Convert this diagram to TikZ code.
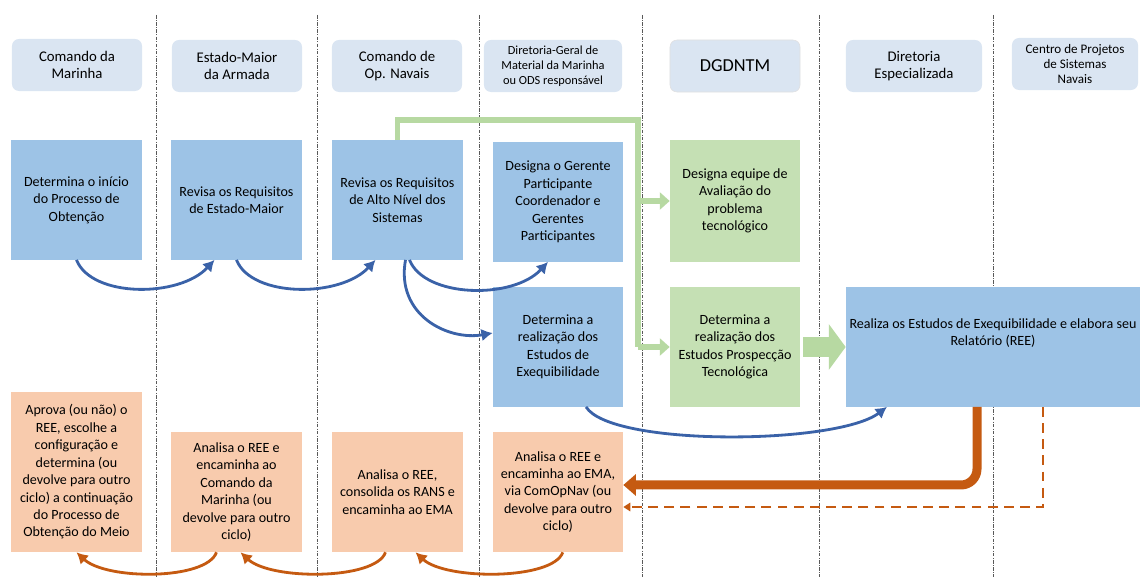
\documentclass[tikz,border=0pt]{standalone}
\usepackage{fontspec}
\setmainfont{Carlito}
\usetikzlibrary{arrows.meta}

\definecolor{cabec}{HTML}{DAE5F2}
\definecolor{azul}{HTML}{9DC3E6}
\definecolor{verde}{HTML}{C5E0B4}
\definecolor{verdelinha}{HTML}{B7D9A2}
\definecolor{laranja}{HTML}{F8CBAD}
\definecolor{laranjaesc}{HTML}{C55A11}
\definecolor{azulesc}{HTML}{3A62A8}

\begin{document}
\begin{tikzpicture}[x=0.025cm,y=-0.025cm,
  cab/.style={fill=cabec,rounded corners=5pt,minimum width=3.25cm,minimum height=1.3cm,
    align=center,font=\fontsize{10.5}{12.5}\selectfont},
  caixa/.style={minimum width=3.25cm,minimum height=2.98cm,align=center,inner sep=1pt,
    font=\fontsize{10}{12.4}\selectfont},
  azulbox/.style={caixa,fill=azul},
  verdebox/.style={caixa,fill=verde},
  laranjabox/.style={caixa,fill=laranja,minimum height=3cm},
  raia/.style={black!65,line width=0.6pt,dash pattern=on 2.5pt off 1pt on 0.6pt off 1pt},
  barrow/.style={azulesc,line width=2pt,-{Latex[length=8pt,width=9pt]}},
  oarrow/.style={laranjaesc,line width=2pt,-{Latex[length=8pt,width=9pt]}},
  gline/.style={verdelinha,line width=3.6pt},
  gseta/.style={verdelinha,line width=4.5pt,-{Triangle[length=7pt,width=12pt]}},
  gbig/.style={verdelinha,line width=14pt,-{Triangle[length=12pt,width=32pt]}},
  grossa/.style={laranjaesc,line width=6.4pt,rounded corners=0.4cm,-{Triangle[length=9pt,width=15pt]}},
  tracej/.style={laranjaesc,line width=1.5pt,dash pattern=on 7pt off 4.5pt,-{Triangle[length=5pt,width=6pt]}}]

  \useasboundingbox (0,0) rectangle (1140,577);
  \foreach \x in {156,317,479,642,819,993}
     \draw[raia] (\x,15) -- (\x,577);

  % cabecalhos
  \node[cab] (h1) at (77,65) {Comando da\\Marinha};
  \node[cab] (h2) at (237,66) {Estado-Maior\\da Armada};
  \node[cab] (h3) at (397,66) {Comando de\\Op. Navais};
  \node[cab,minimum width=3.45cm,inner xsep=1pt,font=\fontsize{8.8}{10.7}\selectfont] (h4) at (553,66)
     {Diretoria-Geral de\\Material da Marinha\\ou ODS responsável};
  \node[cab,draw=black!12,font=\fontsize{13}{15}\selectfont] (h5) at (735,66) {DGDNTM};
  \node[cab,minimum width=3.4cm] (h6) at (914,66) {Diretoria\\Especializada};
  \node[cab,minimum width=3.15cm,font=\fontsize{9.3}{10.8}\selectfont] (h7) at (1075,64)
     {Centro de Projetos\\de Sistemas\\Navais};

  % caixas
  \node[azulbox] (b1) at (76.5,200) {Determina o início\\do Processo de\\Obtenção};
  \node[azulbox] (b2) at (236.5,200) {Revisa os Requisitos\\de Estado-Maior};
  \node[azulbox] (b3) at (397.5,200) {Revisa os Requisitos\\de Alto Nível dos\\Sistemas};
  \node[azulbox] (b4) at (558,202) {Designa o Gerente\\Participante\\Coordenador e\\Gerentes\\Participantes};
  \node[azulbox] (b5) at (558,347) {Determina a\\realização dos\\Estudos de\\Exequibilidade};
  \node[verdebox,minimum height=3.05cm] (g1) at (735,201) {Designa equipe de\\Avaliação do\\problema\\tecnológico};
  \node[verdebox] (g2) at (735,347) {Determina a\\realização dos\\Estudos Prospecção\\Tecnológica};
  \node[azulbox,minimum width=7.35cm] (big) at (993,347)
     {Realiza os Estudos de Exequibilidade e elabora seu\\Relatório (REE)\\[9pt]~};
  \node[laranjabox,minimum height=4cm] (o1) at (76.5,472)
     {Aprova (ou não) o\\REE, escolhe a\\configuração e\\determina (ou\\devolve para outro\\ciclo) a continuação\\do Processo de\\Obtenção do Meio};
  \node[laranjabox] (o2) at (236.5,492) {Analisa o REE e\\encaminha ao\\Comando da\\Marinha (ou\\devolve para outro\\ciclo)};
  \node[laranjabox] (o3) at (397.5,492) {Analisa o REE,\\consolida os RANS e\\encaminha ao EMA};
  \node[laranjabox] (o4) at (558,492) {Analisa o REE e\\encaminha ao EMA,\\via ComOpNav (ou\\devolve para outro\\ciclo)};

  % ligacoes verdes
  \coordinate (gtop) at (638,120);
  \coordinate (gbot) at (638,347);
  \draw[gline] (b3.north) |- (gtop) -- (gbot);
  \draw[gseta] (gtop |- g1.west) -- (g1.west);
  \draw[gseta] (gbot) -- (g2.west);
  \draw[gbig] ([xshift=2pt]g2.east) -- (big.west);

  % setas azuis
  \draw[barrow] (b1.south) .. controls +(15,38) and +(-35,38) .. ([xshift=-0.55cm]b2.south);
  \draw[barrow] (b2.south) .. controls +(15,38) and +(-35,38) .. ([xshift=-0.55cm]b3.south);
  \draw[barrow] ([xshift=0.3cm]b3.south) .. controls +(15,38) and +(-35,38) .. ([xshift=-0.25cm]b4.south);
  \draw[barrow] ([xshift=0.2cm]b3.south) .. controls +(-10,55) and +(-45,8) .. ([yshift=0.35cm]b5.west);
  \draw[barrow] ([xshift=0.7cm]b5.south) .. controls +(25,40) and +(-50,38) .. ([xshift=-2.65cm]big.south);

  % retorno
  \draw[grossa] ([xshift=-0.4cm]big.south) |- ([yshift=0.175cm]o4.east);
  \draw[tracej] ([xshift=1.25cm]big.south) |- ([yshift=-0.375cm]o4.east);
  \draw[oarrow] ([xshift=0.12cm]o4.south) .. controls +(-10,28) and +(30,28) .. ([xshift=0.45cm]o3.south);
  \draw[oarrow] ([xshift=-0.3cm]o3.south) .. controls +(-10,28) and +(30,28) .. ([xshift=0.1cm]o2.south);
  \draw[oarrow] ([xshift=-0.5cm]o2.south) .. controls +(-10,28) and +(30,28) .. (o1.south);
\end{tikzpicture}
\end{document}
